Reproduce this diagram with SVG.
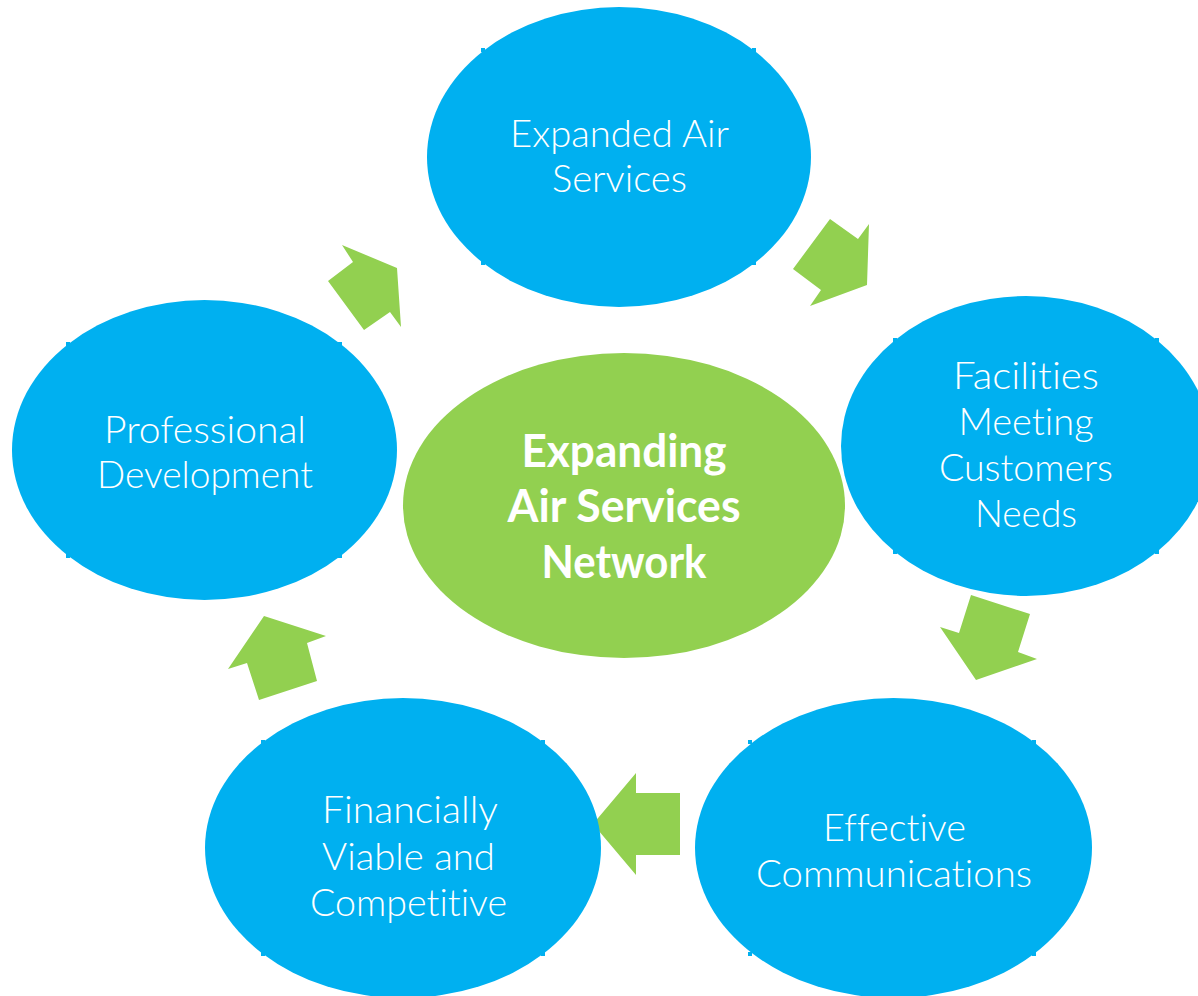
<svg xmlns="http://www.w3.org/2000/svg" width="1198" height="996" viewBox="0 0 1198 996">
<style>
.b{fill:#00B0F0}
.g{fill:#92D050}
.t{fill:#FFFFFF;font-family:Lato,"Open Sans","Liberation Sans",sans-serif;font-weight:300;font-size:38px;text-anchor:middle;font-variant-ligatures:none;font-feature-settings:"liga" 0,"dlig" 0}
.c{fill:#FFFFFF;font-family:Lato,"Open Sans","Liberation Sans",sans-serif;font-weight:700;font-size:45px;text-anchor:middle;font-variant-ligatures:none;font-feature-settings:"liga" 0,"dlig" 0}
</style>
<rect width="1198" height="996" fill="#FFFFFF"/>
<g id="connectors" class="g">
<polygon points="830,219 858,239 869,224 867,285 810,306 821,290 793,269"/>
<polygon points="342,245 397,268 401,327 390,312 364,330 328,281 353,262"/>
<polygon points="971,595 1030,614 1018,652 1037,659 976,680 940,627 959,633"/>
<polygon points="636,773 636,793 680,793 680,855 636,855 636,875 593,824"/>
<polygon points="264,616 326,636 307,643 317,681 259,700 247,663 228,669"/>
</g>
<g id="center">
<ellipse class="g" cx="624" cy="505.5" rx="221" ry="152.5"/>
<text class="c" x="624" y="467" textLength="205" lengthAdjust="spacingAndGlyphs">Expanding</text>
<text class="c" x="624" y="522" textLength="233" lengthAdjust="spacingAndGlyphs">Air Services</text>
<text class="c" x="624" y="578" textLength="165" lengthAdjust="spacingAndGlyphs">Network</text>
</g>
<g id="top">
<ellipse class="b" cx="619" cy="157" rx="192" ry="150"/>
<rect class="b" x="481" y="48" width="4" height="4"/><rect class="b" x="752" y="48" width="4" height="4"/>
<rect class="b" x="481" y="261" width="4" height="4"/><rect class="b" x="752" y="261" width="4" height="4"/>
<text class="t" x="619.5" y="147" textLength="219" lengthAdjust="spacingAndGlyphs">Expanded Air</text>
<text class="t" x="619.5" y="192" textLength="135" lengthAdjust="spacingAndGlyphs">Services</text>
</g>
<g id="right">
<ellipse class="b" cx="1026" cy="446" rx="185" ry="150"/>
<rect class="b" x="893" y="338" width="4" height="4"/><rect class="b" x="1155" y="338" width="4" height="4"/>
<rect class="b" x="893" y="550" width="4" height="4"/><rect class="b" x="1155" y="550" width="4" height="4"/>
<text class="t" x="1026" y="389" textLength="146" lengthAdjust="spacingAndGlyphs">Facilities</text>
<text class="t" x="1026" y="435" textLength="135" lengthAdjust="spacingAndGlyphs">Meeting</text>
<text class="t" x="1026" y="481" textLength="174" lengthAdjust="spacingAndGlyphs">Customers</text>
<text class="t" x="1026" y="527" textLength="102" lengthAdjust="spacingAndGlyphs">Needs</text>
</g>
<g id="bottom-right">
<ellipse class="b" cx="893.5" cy="848" rx="198.5" ry="150"/>
<rect class="b" x="748" y="740" width="4" height="4"/><rect class="b" x="1032" y="740" width="4" height="4"/>
<rect class="b" x="748" y="952" width="4" height="4"/><rect class="b" x="1032" y="952" width="4" height="4"/>
<text class="t" x="894.5" y="841" textLength="143" lengthAdjust="spacingAndGlyphs">Effective</text>
<text class="t" x="894" y="887" textLength="276" lengthAdjust="spacingAndGlyphs">Communications</text>
</g>
<g id="bottom-left">
<ellipse class="b" cx="403" cy="848" rx="198" ry="150"/>
<rect class="b" x="261" y="740" width="4" height="4"/><rect class="b" x="541" y="740" width="4" height="4"/>
<rect class="b" x="261" y="952" width="4" height="4"/><rect class="b" x="541" y="952" width="4" height="4"/>
<text class="t" x="410" y="823" textLength="176" lengthAdjust="spacingAndGlyphs">Financially</text>
<text class="t" x="408.5" y="870" textLength="173" lengthAdjust="spacingAndGlyphs">Viable and</text>
<text class="t" x="408.5" y="916" textLength="197" lengthAdjust="spacingAndGlyphs">Competitive</text>
</g>
<g id="left">
<ellipse class="b" cx="204.5" cy="450" rx="192.5" ry="150"/>
<rect class="b" x="66" y="342" width="4" height="4"/><rect class="b" x="338" y="342" width="4" height="4"/>
<rect class="b" x="66" y="554" width="4" height="4"/><rect class="b" x="338" y="554" width="4" height="4"/>
<text class="t" x="205" y="443" textLength="202" lengthAdjust="spacingAndGlyphs">Professional</text>
<text class="t" x="205" y="488" textLength="216" lengthAdjust="spacingAndGlyphs">Development</text>
</g>
</svg>
